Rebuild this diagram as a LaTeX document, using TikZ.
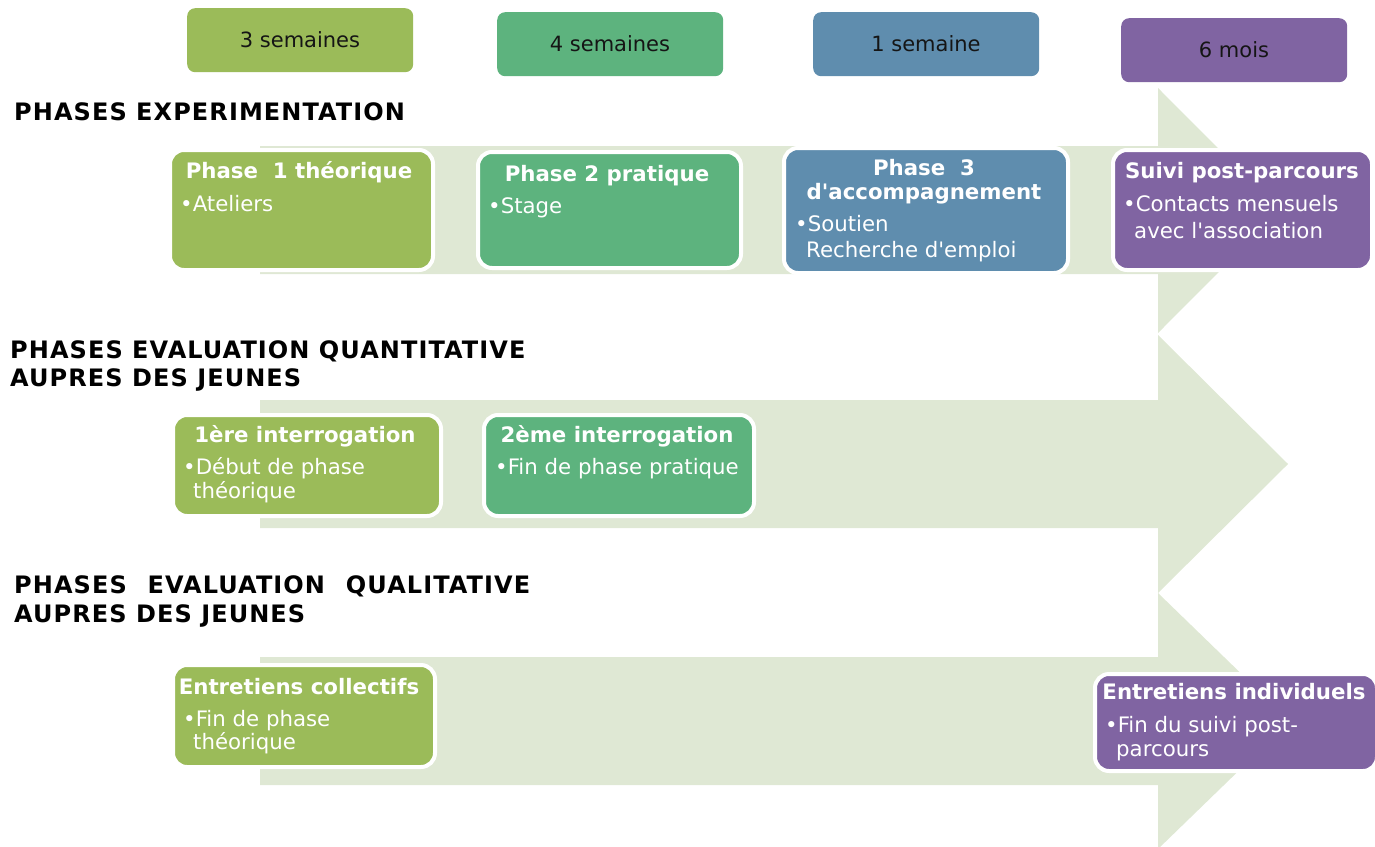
\documentclass[tikz,border=0pt]{standalone}
\usepackage{fontspec}
\setmainfont{DejaVu Sans}[Ligatures=TeXOff]
\definecolor{colive}{HTML}{9BBB59}
\definecolor{cgreen}{HTML}{5DB37E}
\definecolor{cblue}{HTML}{5F8DAE}
\definecolor{cpurple}{HTML}{8064A2}
\definecolor{carrow}{HTML}{DFE8D4}
\definecolor{ctext}{HTML}{151515}
\begin{document}
\begin{tikzpicture}[x=1pt,y=-1pt,
  pbox/.style={draw=white, line width=4pt, rounded corners=14pt, anchor=north west, inner sep=0},
  lbox/.style={rounded corners=8pt, anchor=north west, inner sep=0},
  ttl/.style={inner sep=0, anchor=base, text=white, font=\fontsize{21.3}{25}\selectfont\bfseries},
  itm/.style={inner sep=0, anchor=base west, text=white, font=\fontsize{21.3}{25}\selectfont},
  ltxt/.style={inner sep=0, anchor=base, text=ctext, font=\fontsize{21}{25}\selectfont},
  hd/.style={inner sep=0, anchor=base west, text=black, font=\fontsize{24}{28}\selectfont\bfseries\addfontfeature{LetterSpace=4.5}},
  arr/.style={fill=carrow, draw=none}]
\useasboundingbox (0,0) rectangle (1375,846);
% background arrows
\fill[arr] (260,146) -- (1158,146) -- (1158,88) -- (1280,210.5) -- (1158,333) -- (1158,274) -- (260,274) -- cycle;
\fill[arr] (260,400) -- (1158,400) -- (1158,335) -- (1288,464) -- (1158,593) -- (1158,528) -- (260,528) -- cycle;
\fill[arr] (260,657) -- (1158,657) -- (1158,593) -- (1290,721) -- (1158,849) -- (1158,785) -- (260,785) -- cycle;
% top duration labels
\node[lbox, fill=colive, minimum width=226pt, minimum height=64pt] (t1) at (187,8) {};
\node[lbox, fill=cgreen, minimum width=226pt, minimum height=64pt] (t2) at (497,12) {};
\node[lbox, fill=cblue, minimum width=226pt, minimum height=64pt] (t3) at (813,12) {};
\node[lbox, fill=cpurple, minimum width=226pt, minimum height=64pt] (t4) at (1121,18) {};
\node[ltxt] (t1x) at (300,47) {3 semaines};
\node[ltxt] (t2x) at (610,51) {4 semaines};
\node[ltxt] (t3x) at (926,51) {1 semaine};
\node[ltxt] (t4x) at (1234,57) {6 mois};
% headings
\node[hd] (h1) at (14,120) {PHASES EXPERIMENTATION};
\node[hd] (h2a) at (10,358) {PHASES EVALUATION QUANTITATIVE};
\node[hd] (h2b) at (10,386) {AUPRES DES JEUNES};
\node[hd] (h3a) at (14,593) {\makebox[516pt][s]{PHASES\hfil EVALUATION\hfil QUALITATIVE}};
\node[hd] (h3b) at (14,622) {AUPRES DES JEUNES};
% row 1 boxes
\node[pbox, fill=colive, minimum width=263pt, minimum height=120pt] (p1) at (168,148) {};
\node[pbox, fill=cgreen, minimum width=263pt, minimum height=116pt] (p2) at (476,150) {};
\node[pbox, fill=cblue, minimum width=284pt, minimum height=125pt] (p3) at (782,146) {};
\node[pbox, fill=cpurple, minimum width=259pt, minimum height=120pt] (p4) at (1111,148) {};
\node[ttl] (p1t) at (299,178) {Phase~~1 théorique};
\node[itm] (p1a) at (180,211) {•Ateliers};
\node[ttl] (p2t) at (607,181) {Phase 2 pratique};
\node[itm] (p2a) at (488,213) {•Stage};
\node[ttl] (p3t) at (924,175) {Phase~~3};
\node[ttl] (p3u) at (924,199) {d'accompagnement};
\node[itm] (p3a) at (795,231) {•Soutien};
\node[itm] (p3b) at (806,257) {Recherche d'emploi};
\node[ttl] (p4t) at (1242,178) {Suivi post-parcours};
\node[itm] (p4a) at (1123,211) {•Contacts mensuels};
\node[itm] (p4b) at (1134,238) {avec l'association};
% row 2 boxes
\node[pbox, fill=colive, minimum width=268pt, minimum height=101pt] (q1) at (171,413) {};
\node[pbox, fill=cgreen, minimum width=270pt, minimum height=101pt] (q2) at (482,413) {};
\node[ttl] (q1t) at (305,442) {1ère interrogation};
\node[itm] (q1a) at (183,474) {•Début de phase};
\node[itm] (q1b) at (193,498) {théorique};
\node[ttl] (q2t) at (617,442) {2ème interrogation};
\node[itm] (q2a) at (495,474) {•Fin de phase pratique};
% row 3 boxes
\node[pbox, fill=colive, minimum width=262pt, minimum height=102pt] (r1) at (171,663) {};
\node[pbox, fill=cpurple, minimum width=282pt, minimum height=97pt] (r2) at (1093,672) {};
\node[ttl] (r1t) at (299,694) {Entretiens collectifs};
\node[itm] (r1a) at (183,726) {•Fin de phase};
\node[itm] (r1b) at (193,749) {théorique};
\node[ttl] (r2t) at (1234,699) {Entretiens individuels};
\node[itm] (r2a) at (1105,732) {•Fin du suivi post-};
\node[itm] (r2b) at (1116,756) {parcours};
\end{tikzpicture}
\end{document}
